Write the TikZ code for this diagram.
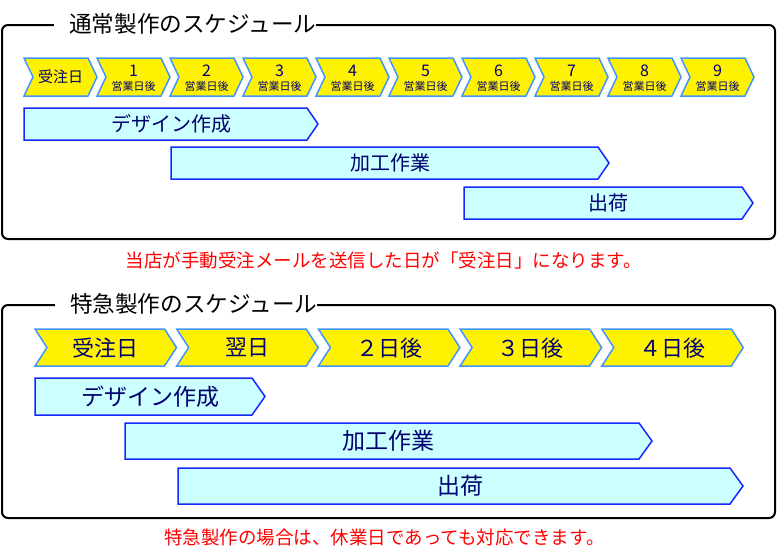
\documentclass[tikz,border=0pt]{standalone}
\usepackage{fontspec}
\setmainfont{Noto Sans CJK JP}
\definecolor{navy}{RGB}{0,0,110}
\definecolor{chevline}{RGB}{64,150,255}
\definecolor{barline}{RGB}{20,40,255}
\definecolor{barfill}{RGB}{204,255,255}
\tikzset{
  chevshape/.style={fill=yellow, draw=chevline, line width=1.5pt, line join=miter},
  barshape/.style={fill=barfill, draw=barline, line width=1.5pt, line join=miter},
  framebox/.style={draw=black, line width=2pt, rounded corners=6pt},
  titletext/.style={fill=white, inner xsep=0pt, inner ysep=2pt, anchor=west, text=black, font=\fontsize{22.6}{24}\selectfont},
  labA/.style={inner sep=0pt, text=navy, font=\fontsize{15}{16}\selectfont},
  numA/.style={inner sep=0pt, text=navy, font=\fontsize{16}{17}\selectfont},
  subA/.style={inner sep=0pt, text=navy, font=\fontsize{11}{12}\selectfont},
  barA/.style={inner sep=0pt, text=navy, font=\fontsize{20}{22}\selectfont},
  labB/.style={inner sep=0pt, text=navy, font=\fontsize{22}{24}\selectfont},
  barB/.style={inner sep=0pt, text=navy, font=\fontsize{23}{25}\selectfont},
  note/.style={inner sep=0pt, text=red, font=\fontsize{18.5}{20}\selectfont},
}
\begin{document}
\begin{tikzpicture}[x=1pt,y=-1pt]
\useasboundingbox (0,0) rectangle (777,547);
% ---------- top frame ----------
\draw[framebox] (2,25) rectangle (775,239);
\node[titletext] (t1) at (54,24) {\hspace{15pt}通常製作のスケジュール\hspace{5pt}};
% chevrons row 1
\foreach \k in {0,...,9} {
  \pgfmathsetmacro\xa{24+73*\k}
  \draw[chevshape] (\xa,58) -- ++(64,0) -- ++(9,19) -- ++(-9,19) -- ++(-64,0) -- ++(9,-19) -- cycle;
}
\node[labA] (c0) at (60.5,77) {受注日};
\foreach \k in {1,...,9} {
  \pgfmathsetmacro\xc{24+73*\k+36.5}
  \node[numA] (n\k) at (\xc,71) {\k};
  \node[subA] (s\k) at (\xc,86.5) {営業日後};
}
% bars row 1
\draw[barshape] (24,108) -- (307,108) -- (318,124) -- (307,140) -- (24,140) -- cycle;
\node[barA] (d1) at (171,124) {デザイン作成};
\draw[barshape] (171,147) -- (598,147) -- (609,163) -- (598,179) -- (171,179) -- cycle;
\node[barA] (k1) at (390,163) {加工作業};
\draw[barshape] (464,187) -- (742,187) -- (753,203) -- (742,219) -- (464,219) -- cycle;
\node[barA] (h1) at (608.5,203) {出荷};
\node[note] (m1) at (384,260) {当店が手動受注メールを送信した日が「受注日」になります。};
% ---------- bottom frame ----------
\draw[framebox] (2,305) rectangle (775,518);
\node[titletext] (t2) at (55,304) {\hspace{15pt}特急製作のスケジュール\hspace{5pt}};
\foreach \k/\t in {0/受注日,1/翌日,2/２日後,3/３日後,4/４日後} {
  \pgfmathsetmacro\xa{35+141.7*\k}
  \draw[chevshape] (\xa,329) -- ++(129.5,0) -- ++(12,18.5) -- ++(-12,18.5) -- ++(-129.5,0) -- ++(12,-18.5) -- cycle;
  \node[labB] (e\k) at ({\xa+70.75},348) {\t};
}
\draw[barshape] (35,378) -- (252,378) -- (265,396.5) -- (252,415) -- (35,415) -- cycle;
\node[barB] (d2) at (150,396.5) {デザイン作成};
\draw[barshape] (125,423) -- (639,423) -- (652,441) -- (639,459) -- (125,459) -- cycle;
\node[barB] (k2) at (388.5,441) {加工作業};
\draw[barshape] (178,468) -- (730,468) -- (743,486) -- (730,504) -- (178,504) -- cycle;
\node[barB] (h2) at (460.5,486) {出荷};
\node[note] (m2) at (384.5,537) {特急製作の場合は、休業日であっても対応できます。};
\end{tikzpicture}
\end{document}
